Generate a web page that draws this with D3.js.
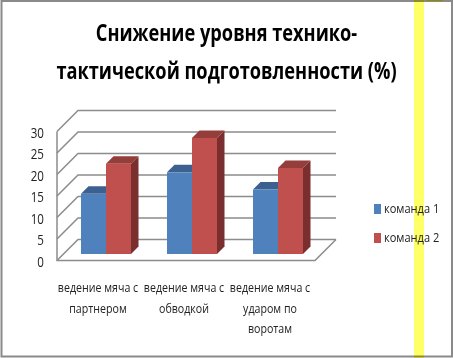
<!DOCTYPE html>
<html>
<head>
<meta charset="utf-8">
<script src="https://cdn.jsdelivr.net/npm/d3@7"></script>
<style>
html, body { margin: 0; padding: 0; background: #fff; }
svg { display: block; }
text { font-family: "Open Sans", "Noto Sans", sans-serif; fill: #222; }
</style>
</head>
<body>
<script>
/* ------------------------------- chart data ------------------------------- */
const categories = [
    ["ведение мяча с", "партнером"],
    ["ведение мяча с", "обводкой"],
    ["ведение мяча с", "ударом по", "воротам"]
];
const seriesNames = ["команда 1", "команда 2"];
const team1 = [14, 19, 15];
const team2 = [21, 27, 20];
const yTicks = [0, 5, 10, 15, 20, 25, 30];
const titleLines = ["Снижение уровня технико-", "тактической подготовленности (%)"];

/* ----------------------------- document size ------------------------------ */
const width = 453, height = 358;
const colors = ["#4f81bd", "#c0504d"];
const topColors = ["#3c6191", "#943d3b"];
const sideColors = ["#2f4d73", "#7a2f2e"];

const svg = d3.select("body").append("svg").attr("width", width).attr("height", height);

// the picture's font is narrow, so squeeze the text horizontally
const squeeze = (px, py, k) => `translate(${px},${py}) scale(${k},1)`;

/* ---------------------------------- frame --------------------------------- */
svg.append("path")
    .attr("d", `M1.5,1H${width - 1}V${height - 1.5}H1.5Z`)
    .attr("fill", "#fff").attr("stroke", "#8a8a8a").attr("stroke-width", 2);

/* --------------------------------- scales --------------------------------- */
const depth = 21;       // shift of the back wall
const barDepth = 7.5;   // shift of the bar's top and side
const x = d3.scaleBand().domain(d3.range(categories.length)).range([57, 315]);
const y = d3.scaleLinear().domain([0, 30]).range([260.5, 131.5]);
const inner = d3.scaleBand().domain([0, 1]).range([24, 74]);
const barBase = 6.5;    // bars stand a bit behind the front edge

/* ------------------------------ walls and grid ---------------------------- */
const grid = svg.append("g").attr("fill", "none").attr("stroke", "#8c8c8c").attr("stroke-width", 1.5);
grid.selectAll("path.tick").data(yTicks).enter().append("path")
    .attr("d", d => `M${x.range()[0]},${y(d)}L${x.range()[0] + depth},${y(d) - depth}L${x.range()[1] + depth},${y(d) - depth}`);
grid.append("path")
    .attr("d", `M${x.range()[0]},${y(30)}V${y(0)}H${x.range()[1]}L${x.range()[1] + depth},${y(0) - depth}`);

/* ---------------------------------- bars ---------------------------------- */
[team1, team2].forEach((values, s) => {
    const g = svg.append("g");
    const left = (d, i) => x(i) + inner(s);
    const right = (d, i) => left(d, i) + inner.bandwidth();
    const top = d => y(d) - barBase;
    const base = y(0) - barBase;
    // top face
    g.selectAll("path.top").data(values).enter().append("path")
        .attr("fill", topColors[s])
        .attr("d", (d, i) => `M${left(d, i)},${top(d)}l${barDepth},${-barDepth}H${right(d, i) + barDepth}L${right(d, i)},${top(d)}Z`);
    // side face
    g.selectAll("path.side").data(values).enter().append("path")
        .attr("fill", sideColors[s])
        .attr("d", (d, i) => `M${right(d, i)},${top(d)}l${barDepth},${-barDepth}V${base - barDepth}L${right(d, i)},${base}Z`);
    // front face
    g.selectAll("rect").data(values).enter().append("rect")
        .attr("fill", colors[s])
        .attr("x", left)
        .attr("y", top)
        .attr("width", inner.bandwidth())
        .attr("height", d => base - top(d));
});

/* -------------------------------- y labels -------------------------------- */
svg.append("g").selectAll("text").data(yTicks).enter().append("text")
    .attr("transform", d => squeeze(44, y(d) + 6, 0.8))
    .attr("text-anchor", "end")
    .attr("font-size", 14.5)
    .text(d => d);

/* ------------------------------ category labels --------------------------- */
const catGroup = svg.append("g").selectAll("g").data(categories).enter().append("g");
catGroup.selectAll("text").data((d, i) => d.map(t => ({ t, i }))).enter().append("text")
    .attr("transform", (d, j) => squeeze(x(d.i) + x.bandwidth() / 2 - 2, 292 + j * 20.5, 0.82))
    .attr("text-anchor", "middle")
    .attr("font-size", 13)
    .text(d => d.t);

/* --------------------------------- legend --------------------------------- */
const legend = svg.append("g").selectAll("g").data(seriesNames).enter().append("g");
legend.append("rect")
    .attr("x", 374).attr("y", (d, i) => 204 + i * 29)
    .attr("width", 7).attr("height", 10)
    .attr("fill", (d, i) => colors[i]);
legend.append("text")
    .attr("transform", (d, i) => squeeze(384, 213 + i * 29, 0.82))
    .attr("font-size", 13.5)
    .text(d => d);

/* ---------------------------------- title --------------------------------- */
svg.append("g").selectAll("text").data(titleLines).enter().append("text")
    .attr("transform", (d, i) => squeeze(226.5, 41 + i * 37.5, 0.76))
    .attr("text-anchor", "middle")
    .attr("font-size", 24)
    .attr("font-weight", 700)
    .style("fill", "#000")
    .text(d => d);

/* ------------------------------ yellow stripe ----------------------------- */
svg.append("rect")
    .attr("x", 426).attr("y", 0).attr("width", 17).attr("height", 1)
    .attr("fill", "#8c8c00");
svg.append("rect")
    .attr("x", 414).attr("y", 0).attr("width", 10).attr("height", height)
    .attr("fill", "#ffff66").style("mix-blend-mode", "multiply");
</script>
</body>
</html>
